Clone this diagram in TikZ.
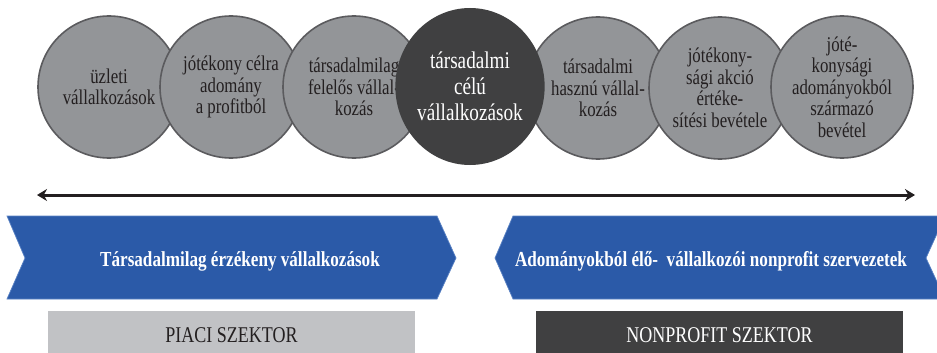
\documentclass[tikz,border=0pt]{standalone}
\usepackage{fontspec}
\setmainfont[FakeStretch=0.8]{Liberation Serif}
\usetikzlibrary{arrows.meta,shapes.geometric}
\definecolor{cgray}{HTML}{939598}
\definecolor{cline}{HTML}{5B5B5E}
\definecolor{cdark}{HTML}{404041}
\definecolor{ctext}{HTML}{231F20}
\definecolor{cblue}{HTML}{2B5AA8}
\definecolor{cblueedge}{HTML}{5A82C4}
\definecolor{clight}{HTML}{C1C2C5}
\begin{document}
\begin{tikzpicture}[x=1pt,y=-1pt,
  gcirc/.style={circle, fill=cgray, draw=cline, line width=1.6pt, minimum size=142pt,
    inner sep=0pt, align=center, text=ctext, font=\fontsize{21}{21.5}\selectfont},
  dcirc/.style={ellipse, fill=cdark, draw=none, minimum width=146pt, minimum height=157pt,
    inner sep=0pt, align=center, text=white, font=\fontsize{24}{26}\selectfont},
  banner/.style={fill=cblue, draw=cblueedge, line width=0.7pt},
  bantext/.style={anchor=base, text=white, inner sep=0pt, font=\fontsize{21.4}{24}\selectfont\bfseries},
  sectext/.style={anchor=base, inner sep=0pt, font=\fontsize{22.5}{24}\selectfont},
  dblarrow/.style={line width=3pt, draw=ctext, {Stealth[length=10pt,width=12pt]}-{Stealth[length=10pt,width=12pt]}}
]
\useasboundingbox (0,0) rectangle (937,353);
\clip (0,0) rectangle (937,353);
% circles
\node[gcirc] (c1) at (109,87) {üzleti\\vállalkozások};
\node[gcirc] (c2) at (231,87) {jótékony célra\\adomány\\a profitból};
\node[gcirc] (c3) at (354,87) {társadalmilag\\felelős vállal-\\kozás};
\node[gcirc] (c5) at (598,88) {társadalmi\\hasznú vállal-\\kozás};
\node[gcirc] (c6) at (720,88) {jótékony-\\sági akció\\értéke-\\sítési bevétele};
\node[gcirc] (c7) at (842,87) {jóté-\\konysági\\adományokból\\származó\\bevétel};
\node[dcirc] (c4) at (470,86.5) {társadalmi\\célú\\vállalkozások};
% arrow
\coordinate (aL) at (37,195);
\coordinate (aR) at (915,195);
\draw[dblarrow] (aL) -- (aR);
% banners
\path[banner] (7,216) -- (437,216) -- (456,258) -- (437,299) -- (7,299) -- (25,258) -- cycle;
\path[banner] (513,216) -- (945,216) -- (926,258) -- (945,299) -- (513,299) -- (495,258) -- cycle;
\node[bantext] (bl) at (240,266) {Társadalmilag érzékeny vállalkozások};
\node[bantext] (br) at (711,266) {Adományokból élő-~ vállalkozói nonprofit szervezetek};
% sector boxes
\fill[clight] (48,311) rectangle (415,360);
\fill[cdark] (536,311) rectangle (903,360);
\node[sectext, text=ctext] (piaci) at (231.5,342.5) {PIACI SZEKTOR};
\node[sectext, text=white] (nonprofit) at (719.5,342.5) {NONPROFIT SZEKTOR};
\end{tikzpicture}
\end{document}
